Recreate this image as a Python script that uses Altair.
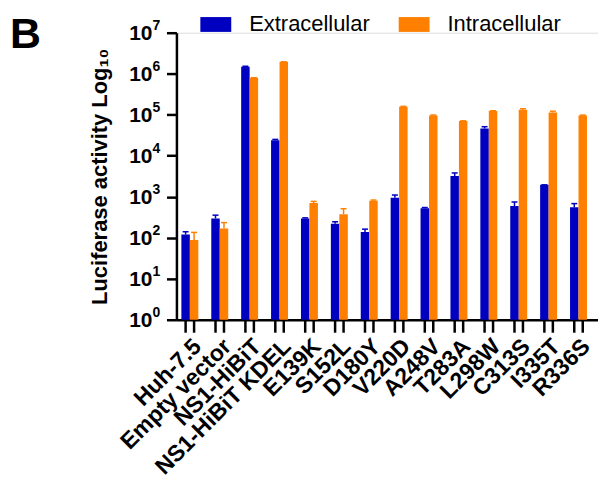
import altair as alt
import pandas as pd

categories = ["Huh-7.5", "Empty vector", "NS1-HiBiT", "NS1-HiBiT KDEL", "E139K", "S152L",
              "D180Y", "V220D", "A248V", "T283A", "L298W", "C313S", "I335T", "R336S"]
series = ["Extracellular", "Intracellular"]
extracellular = [120, 295, 1.48e6, 2.4e4, 295, 220, 137, 950, 520, 3200, 4.6e4, 590, 1950, 550]
extracellular_err = [140, 355, 1.52e6, 2.5e4, 305, 245, 162, 1100, 545, 3800, 5.1e4, 745, 1950, 680]
intracellular = [88, 167, 8.0e5, 1.95e6, 700, 375, 800, 1.56e5, 9.6e4, 7.0e4, 1.23e5, 1.32e5, 1.14e5, 9.6e4]
intracellular_err = [135, 234, 8.0e5, 1.95e6, 770, 510, 830, 1.6e5, 9.8e4, 7.1e4, 1.25e5, 1.4e5, 1.22e5, 9.8e4]
y_ticks = [1, 10, 100, 1000, 1e4, 1e5, 1e6, 1e7]
y_exponents = ["0", "1", "2", "3", "4", "5", "6", "7"]
colors = ["#0000C0", "#FF7F00"]

rows = []
for i, c in enumerate(categories):
    rows.append({"cat": c, "series": series[0], "value": extracellular[i], "err": extracellular_err[i]})
    rows.append({"cat": c, "series": series[1], "value": intracellular[i], "err": intracellular_err[i]})
df = pd.DataFrame(rows)
ticks_df = pd.DataFrame({"v": y_ticks, "exp": y_exponents, "base": ["10"] * len(y_ticks)})

W, H = 423, 288
FONT = "Liberation Sans"

xenc = alt.X("cat:N", sort=categories,
             scale=alt.Scale(paddingInner=0.433, paddingOuter=0.267, align=0.31),
             axis=alt.Axis(title=None, labelAngle=-45, labelFont=FONT, labelFontSize=23,
                           labelFontWeight="bold", labelColor="black", ticks=False,
                           domainColor="black", domainWidth=2.5, labelPadding=15,
                           labelLimit=400))
xoff = alt.XOffset("series:N", sort=series, scale=alt.Scale(paddingInner=0, paddingOuter=0))
yscale = alt.Scale(type="log", domain=[1, 1e7], nice=False)
color = alt.Color("series:N", sort=series, scale=alt.Scale(domain=series, range=colors),
                  legend=alt.Legend(title=None, orient="none", direction="horizontal",
                                    legendX=24, legendY=-24, labelFont=FONT, labelFontSize=22,
                                    labelColor="black", symbolType="M-1,-0.48H1V0.48H-1Z",
                                    symbolSize=961, symbolStrokeWidth=0, symbolOpacity=1,
                                    labelOffset=18, columnPadding=28, padding=0))

base = alt.Chart(df)

bars = base.mark_bar(opacity=1).encode(
    x=xenc, xOffset=xoff,
    y=alt.Y("value:Q", scale=yscale,
            axis=alt.Axis(title="Luciferase activity Log₁₀", values=y_ticks, labels=False,
                          tickSize=10, tickWidth=2.5,
                          tickColor="black", domainColor="black", domainWidth=2.5,
                          titleFont=FONT, titleFontSize=22, titleFontWeight="bold",
                          titleColor="black", titlePadding=54, grid=False)),
    y2=alt.datum(1),
    color=color,
)

err_rule = base.mark_rule(strokeWidth=1.5).encode(
    x=alt.X("cat:N", sort=categories), xOffset=xoff,
    y=alt.Y("value:Q", scale=yscale), y2="err:Q",
    color=alt.Color("series:N", sort=series, legend=None),
)
err_cap = base.mark_tick(size=6, thickness=1.5, opacity=1).encode(
    x=alt.X("cat:N", sort=categories), xOffset=xoff,
    y=alt.Y("err:Q", scale=yscale),
    color=alt.Color("series:N", sort=series, legend=None),
)
xticks = base.mark_rule(strokeWidth=2.5, color="black").encode(
    x=alt.X("cat:N", sort=categories), xOffset=xoff,
    y=alt.value(H + 1), y2=alt.value(H + 13),
)

tick_base = alt.Chart(ticks_df).mark_text(
    fontSize=21, fontWeight="bold", font=FONT, align="right", baseline="middle", color="black", dy=1
).encode(x=alt.value(-24), y=alt.Y("v:Q", scale=yscale), text="base:N")
tick_exp = alt.Chart(ticks_df).mark_text(
    fontSize=14, fontWeight="bold", font=FONT, align="left", baseline="middle", color="black", dy=-7
).encode(x=alt.value(-24), y=alt.Y("v:Q", scale=yscale), text="exp:N")

panel = alt.Chart(pd.DataFrame({"t": ["B"]})).mark_text(
    fontSize=43, fontWeight="bold", font=FONT, align="left", baseline="alphabetic", color="black"
).encode(x=alt.value(-167), y=alt.value(15), text="t:N")

chart = alt.layer(bars, err_rule, err_cap, xticks, tick_base, tick_exp, panel).resolve_scale(color="shared").properties(
    width=W, height=H,
    autosize=alt.AutoSizeParams(type="none"),
    padding={"left": 169, "top": 24, "right": 0, "bottom": 157},
).configure_view(stroke=None).configure(background="white")

chart.save("out.html", embed_options={"renderer": "svg", "actions": False})
